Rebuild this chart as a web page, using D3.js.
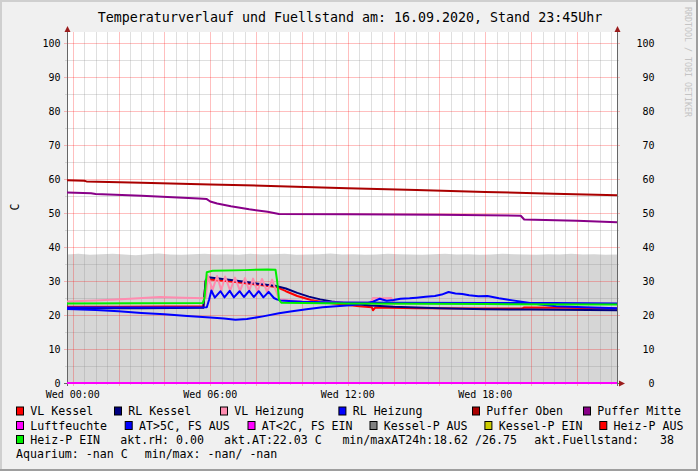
<!DOCTYPE html>
<html><head><meta charset="utf-8">
<script src="https://cdn.jsdelivr.net/npm/d3@7"></script>
<style>
html,body{margin:0;padding:0;background:#f0f0f0;}
svg{display:block;font-family:"DejaVu Sans Mono",monospace;}
</style></head><body>
<svg id="c" width="698" height="471"></svg>
<script>
// ---------- DATA ----------
const title = "Temperaturverlauf und Fuellstand am: 16.09.2020, Stand 23:45Uhr";
const yAxisLabel = "C";
const watermark = "RRDTOOL / TOBI OETIKER";
const yTickValues = [0,10,20,30,40,50,60,70,80,90,100];
const xTickHours = [0,6,12,18];
const xTickLabels = ["Wed 00:00","Wed 06:00","Wed 12:00","Wed 18:00"];

// [hour since midnight, value]
const vlKessel = [[-0.25,22.4],[2,22.4],[4,22.5],[5.7,22.5],[5.8,29.8],[5.9,30.5],[7,29.8],[8,29.0],[8.9,28.2],[9.3,27.0],[9.8,25.6],[10.4,24.4],[11,23.7],[11.6,23.2],[12.5,22.6],[13.05,22.3],[13.1,21.4],[13.2,22.2],[15,22.0],[18,21.9],[19.6,21.9],[19.7,22.2],[21.5,22.1],[23.75,21.9]];
const rlKessel = [[-0.25,22.0],[3,22.0],[5.7,22.1],[5.8,30.2],[5.9,31.1],[7,30.2],[8,29.3],[8.9,28.5],[9.3,27.8],[9.8,26.5],[10.3,25.4],[10.8,24.6],[11.3,24.0],[12,23.4],[13,22.8],[14,22.4],[16,22.0],[18,21.7],[20,21.6],[23.75,21.4]];
const vlHeizung = [[-0.25,24.0],[1,24.3],[2.5,24.8],[3.8,25.3],[4.8,25.1],[5.8,24.9],[5.9,31.6],[6.1,27.4],[6.3,31.5],[6.48,27.3],[6.65,31.3],[6.87,27.2],[7.08,31.0],[7.3,27.1],[7.52,30.9],[7.7,27.0],[7.87,30.7],[8.06,26.9],[8.26,30.6],[8.48,26.8],[8.7,30.4],[8.85,27.5],[9.0,24.6],[10,24.0],[12,23.6],[13.0,23.6],[13.1,25.0],[13.6,24.9],[13.9,25.0],[14.0,23.6],[18,23.5],[23.75,23.3]];
const rlHeizung = [[-0.25,22.2],[3,22.2],[5.85,22.3],[5.95,24.5],[6.05,27.2],[6.2,25.1],[6.45,27.0],[6.62,25.2],[6.85,27.1],[7.03,25.2],[7.28,27.0],[7.47,25.3],[7.7,27.1],[7.9,25.3],[8.12,27.0],[8.32,25.2],[8.55,26.8],[8.78,25.0],[8.9,24.6],[9.05,24.3],[10,23.9],[11.5,23.7],[14,23.6],[18,23.5],[21,23.5],[23.75,23.4]];
const pufferOben = [[-0.25,59.6],[0.5,59.5],[0.6,59.3],[3,58.9],[6,58.4],[9,57.9],[12,57.3],[15,56.8],[18,56.2],[21,55.7],[23.75,55.2]];
const pufferMitte = [[-0.25,56.0],[0.8,55.8],[1.0,55.6],[3,55.1],[5.5,54.3],[5.85,54.1],[6.0,53.4],[6.3,52.8],[6.9,52.0],[7.7,51.1],[8.5,50.4],[9.0,49.7],[12,49.6],[16,49.5],[19.55,49.2],[19.7,48.1],[22,47.7],[23.75,47.3]];
const luftfeuchte = [[-0.25,0],[23.75,0]];
const aussenTemp = [[-0.25,21.8],[1,21.5],[2,21.1],[3,20.6],[4,20.2],[5,19.7],[6,19.3],[6.6,19.0],[7.1,18.62],[7.6,18.8],[8.3,19.6],[9.0,20.5],[9.5,21.0],[10.2,21.7],[10.9,22.3],[12.1,22.9],[12.8,23.4],[13.1,23.9],[13.4,24.8],[13.7,24.2],[14.0,24.4],[14.3,24.8],[14.7,24.9],[15.0,25.1],[15.4,25.4],[15.8,25.6],[16.1,26.0],[16.4,26.75],[16.7,26.3],[17.0,26.2],[17.3,25.8],[17.7,25.5],[18.1,25.6],[18.6,24.9],[19.2,24.3],[19.8,23.7],[20.4,23.1],[21.1,22.6],[22.3,22.3],[23.75,22.0]];
const heizPEin = [[-0.25,23.4],[5.68,23.5],[5.75,25.0],[5.85,32.6],[6.1,33.0],[7.5,33.2],[8.5,33.4],[8.85,33.3],[8.92,30.0],[9.0,24.5],[9.1,23.6],[12,23.4],[18,23.2],[23.75,23.1]];
// Fuellstand, half-hour samples from 23:45 (prev. day)
const fuellStart = -0.25, fuellStep = 0.5;
const fuellstand = [37.8,38.0,37.7,37.9,38.0,37.8,37.6,37.9,38.1,37.8,37.7,37.9,38.0,37.8,37.9,37.7,38.0,37.8,37.9,38.0,37.7,37.8,37.9,38.1,37.8,37.9,37.7,37.8,38.0,37.9,37.8,37.7,37.9,38.0,37.8,37.9,37.7,37.8,38.0,37.9,37.8,37.7,37.9,37.8,38.0,37.8,37.9,37.7,37.8];

const legendNames = ["VL Kessel","RL Kessel","VL Heizung","RL Heizung","Puffer Oben","Puffer Mitte","Luftfeuchte","AT>5C, FS AUS","AT<2C, FS EIN","Kessel-P AUS","Kessel-P EIN","Heiz-P AUS","Heiz-P EIN"];
const infoTexts = ["akt.rH: 0.00","akt.AT:22.03 C","min/maxAT24h:18.62 /26.75","akt.Fuellstand:   38","Aquarium: -nan C","min/max: -nan/ -nan"];

// ---------- STYLE / LAYOUT ----------
const legendColors = ["#ff0000","#000080","#ff8cb0","#0000ff","#aa0000","#880088","#ff00ff","#0000ff","#ff00ff","#808080","#cccc00","#ff0000","#00ee00"];
const legendPos = [[16,0],[114,0],[220,0],[338.4,0],[472,0],[583,0],[16,1],[124.7,1],[247.5,1],[369.5,1],[484.4,1],[599.3,1],[16,2]];
const infoPos = [[120.2,2],[224,2],[342.4,2],[534.3,2],[16,3],[144.7,3]];
const rowY = [411,425.5,439.5,453.5];

const series = [
  {d: vlKessel, c: legendColors[0]},
  {d: rlKessel, c: legendColors[1]},
  {d: vlHeizung, c: legendColors[2]},
  {d: rlHeizung, c: legendColors[3]},
  {d: pufferOben, c: legendColors[4]},
  {d: pufferMitte, c: legendColors[5]},
  {d: luftfeuchte, c: legendColors[6]},
  {d: aussenTemp, c: legendColors[7]},
  {d: heizPEin, c: legendColors[12]}
];

const W=698,H=471;
const L=67,R=617,T=32,B=383;
const svg = d3.select("#c");
const x = d3.scaleLinear().domain([-0.25,23.75]).range([L,R]);
const y = d3.scaleLinear().domain([0,103.24]).range([B,T]);

// background + frame
svg.append("rect").attr("width",W).attr("height",H).attr("fill","#f0f0f0");
svg.append("rect").attr("x",0).attr("y",0).attr("width",W).attr("height",2).attr("fill","#cfcfcf");
svg.append("rect").attr("x",0).attr("y",0).attr("width",2).attr("height",H).attr("fill","#cfcfcf");
svg.append("rect").attr("x",0).attr("y",H-2).attr("width",W).attr("height",2).attr("fill","#9e9e9e");
svg.append("rect").attr("x",W-2).attr("y",0).attr("width",2).attr("height",H).attr("fill","#9e9e9e");

// canvas
svg.append("rect").attr("x",L).attr("y",T).attr("width",R-L).attr("height",B-T).attr("fill","#fff");

// Fuellstand area
const fuellData = fuellstand.map((v,i)=>[fuellStart+i*fuellStep,v]);
svg.append("path").datum(fuellData)
  .attr("d", d3.area().x(d=>x(d[0])).y0(y(0)).y1(d=>y(d[1])))
  .attr("fill","#d6d6d6");

// grid
const g = svg.append("g");
const minorH = d3.range(0,23.75,0.5).filter(h=>h%2!==0);
const majorH = d3.range(0,23.75,2);
const minorV = d3.range(5,101,10);
const majorV = d3.range(10,101,10);
const minorCol = "rgba(140,140,140,0.28)", majorCol = "rgba(255,0,0,0.25)";
g.selectAll(".mv").data(minorH).join("line").attr("x1",d=>Math.round(x(d))+0.5).attr("x2",d=>Math.round(x(d))+0.5).attr("y1",T).attr("y2",B+2).attr("stroke",minorCol);
g.selectAll(".mh").data(minorV).join("line").attr("x1",L-2).attr("x2",R+2).attr("y1",d=>Math.round(y(d))+0.5).attr("y2",d=>Math.round(y(d))+0.5).attr("stroke",minorCol);
g.selectAll(".Mv").data(majorH).join("line").attr("x1",d=>Math.round(x(d))+0.5).attr("x2",d=>Math.round(x(d))+0.5).attr("y1",T).attr("y2",B+3).attr("stroke",majorCol);
g.selectAll(".Mh").data(majorV).join("line").attr("x1",L-3).attr("x2",R+3).attr("y1",d=>Math.round(y(d))+0.5).attr("y2",d=>Math.round(y(d))+0.5).attr("stroke",majorCol);

// axes lines
svg.append("line").attr("x1",L+0.5).attr("x2",L+0.5).attr("y1",B+3).attr("y2",T-3).attr("stroke","#666");
svg.append("line").attr("x1",R+0.5).attr("x2",R+0.5).attr("y1",B+3).attr("y2",T-3).attr("stroke","#666");
svg.append("line").attr("x1",L-3).attr("x2",R+3).attr("y1",B+0.5).attr("y2",B+0.5).attr("stroke","#666");

// series lines
const line = d3.line().x(d=>x(d[0])).y(d=>y(d[1]));
svg.append("g").selectAll("path").data(series).join("path")
  .attr("d",s=>line(s.d)).attr("fill","none").attr("stroke",s=>s.c)
  .attr("stroke-width",2).attr("stroke-linejoin","round");

// arrows
const arrowCol = "#9b1c1c";
svg.append("path").attr("d",`M${L-2.5},${T}L${L+3.5},${T}L${L+0.5},${T-6}Z`).attr("fill",arrowCol);
svg.append("path").attr("d",`M${R-2.5},${T}L${R+3.5},${T}L${R+0.5},${T-6}Z`).attr("fill",arrowCol);
svg.append("path").attr("d",`M${R+2},${B-2.5}L${R+2},${B+3.5}L${R+8},${B+0.5}Z`).attr("fill",arrowCol);

// y tick labels
svg.append("g").selectAll("text").data(yTickValues).join("text")
  .attr("x",60.5).attr("y",d=>y(d)+3.6).attr("text-anchor","end")
  .attr("font-size","10px").attr("fill","#000").text(d=>d);
svg.append("g").selectAll("text").data(yTickValues).join("text")
  .attr("x",654.5).attr("y",d=>y(d)+3.6).attr("text-anchor","end")
  .attr("font-size","10px").attr("fill","#000").text(d=>d);

// x tick labels
svg.append("g").selectAll("text").data(xTickHours).join("text")
  .attr("x",d=>x(d)).attr("y",398).attr("text-anchor","middle")
  .attr("font-size","10px").attr("fill","#000").text((d,i)=>xTickLabels[i]);

// title
svg.append("text").attr("x",350).attr("y",21.5).attr("text-anchor","middle")
  .attr("font-size","13.3px").attr("fill","#000").text(title);

// y axis label
svg.append("text").attr("transform","translate(18.5,207) rotate(-90)")
  .attr("text-anchor","middle").attr("font-size","11.6px").attr("fill","#000").text(yAxisLabel);

// watermark
svg.append("text").attr("transform","translate(685,7) rotate(90)")
  .attr("font-size","8.3px").attr("fill","#c4c4c4").text(watermark);

// legend
const lg = svg.append("g");
legendNames.forEach((n,i)=>{
  const [lx,r] = legendPos[i];
  const cy = rowY[r];
  lg.append("rect").attr("x",lx+0.5).attr("y",cy-4).attr("width",7).attr("height",8)
    .attr("fill",legendColors[i]).attr("stroke","#000").attr("stroke-width",1);
  lg.append("text").attr("x",lx+14.3).attr("y",cy+4.2).attr("font-size","11.6px")
    .attr("fill","#000").attr("xml:space","preserve").style("white-space","pre").text(n);
});
infoTexts.forEach((t,i)=>{
  const [lx,r] = infoPos[i];
  lg.append("text").attr("x",lx).attr("y",rowY[r]+4.2).attr("font-size","11.6px")
    .attr("fill","#000").style("white-space","pre").text(t);
});
</script>
</body></html>
